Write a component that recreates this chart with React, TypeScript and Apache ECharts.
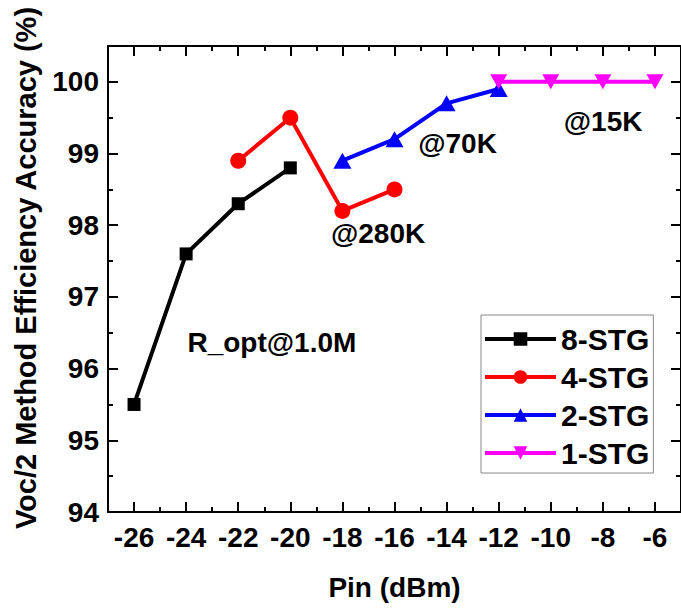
import React, { useEffect, useRef } from "react";
import * as echarts from "echarts";

const xMajor = [-26, -24, -22, -20, -18, -16, -14, -12, -10, -8, -6];
const xMinor = [-25, -23, -21, -19, -17, -15, -13, -11, -9, -7];
const yMajor = [94, 95, 96, 97, 98, 99, 100];
const yMinor = [94.5, 95.5, 96.5, 97.5, 98.5, 99.5];

const stg8X = [-26, -24, -22, -20];
const stg8Y = [95.5, 97.6, 98.3, 98.8];
const stg4X = [-22, -20, -18, -16];
const stg4Y = [98.9, 99.5, 98.2, 98.5];
const stg2X = [-18, -16, -14, -12];
const stg2Y = [98.9, 99.2, 99.7, 99.9];
const stg1X = [-12, -10, -8, -6];
const stg1Y = [100, 100, 100, 100];

const seriesNames = ["8-STG", "4-STG", "2-STG", "1-STG"];

const annotTexts = ["R_opt@1.0M", "@280K", "@70K", "@15K"];
const annotX = [-23.95, -18.44, -15.09, -9.5];
const annotY = [96.36, 97.89, 99.135, 99.44];

const FONT = "'Liberation Sans', Arial, sans-serif";

const zip = (xs: number[], ys: number[]) => xs.map((x, i) => [x, ys[i]]);

export default function App() {
  const ref = useRef<HTMLDivElement>(null);
  useEffect(() => {
    document.body.style.margin = "0";
    if (!ref.current) return;
    const chart = echarts.init(ref.current, undefined, { renderer: "svg" });
    const lineAxis = { show: true, lineStyle: { color: "#000", width: 2 } };
    const xBase = { type: "value", min: -27, max: -5, splitLine: { show: false } };
    const yBase = { type: "value", min: 94, max: 100.5, splitLine: { show: false } };
    const major = (vals: number[]) => ({
      show: true, inside: true, length: 10, customValues: vals,
      lineStyle: { color: "#000", width: 2 },
    });
    const minor = (vals: number[]) => ({
      show: true, inside: true, length: 5, customValues: vals,
      lineStyle: { color: "#000", width: 2 },
    });
    const labelStyle = { fontSize: 28, fontWeight: "bold", color: "#000", fontFamily: FONT };
    const mk = (name: string, data: number[][], color: string, symbol: string, size: any) => ({
      name, type: "line", data, xAxisIndex: 0, yAxisIndex: 0,
      symbol, symbolSize: size,
      lineStyle: { color, width: 4 },
      itemStyle: { color },
      z: 3,
    });
    chart.setOption({
      animation: false,
      backgroundColor: "#fff",
      grid: { left: 108, top: 46, width: 577.5, height: 466 },
      xAxis: [
        {
          ...xBase, position: "bottom", axisLine: lineAxis, axisTick: major(xMajor),
          axisLabel: { ...labelStyle, margin: 11, customValues: xMajor },
          name: "Pin (dBm)", nameLocation: "middle", nameGap: 61,
          nameTextStyle: { ...labelStyle },
        },
        { ...xBase, position: "bottom", axisLine: { show: false }, axisTick: minor(xMinor), axisLabel: { show: false } },
        { ...xBase, position: "top", axisLine: lineAxis, axisTick: major(xMajor), axisLabel: { show: false } },
        { ...xBase, position: "top", axisLine: { show: false }, axisTick: minor(xMinor), axisLabel: { show: false } },
      ],
      yAxis: [
        {
          ...yBase, position: "left", axisLine: lineAxis, axisTick: major(yMajor),
          axisLabel: { ...labelStyle, margin: 9, customValues: yMajor },
        },
        { ...yBase, position: "left", axisLine: { show: false }, axisTick: minor(yMinor), axisLabel: { show: false } },
        { ...yBase, position: "right", axisLine: lineAxis, axisTick: major(yMajor), axisLabel: { show: false } },
        { ...yBase, position: "right", axisLine: { show: false }, axisTick: minor(yMinor), axisLabel: { show: false } },
      ],
      legend: {
        orient: "vertical", left: 481, top: 315,
        data: seriesNames,
        borderColor: "#888", borderWidth: 1, padding: [9, 4, 5, 2],
        itemWidth: 71, itemHeight: 17, itemGap: 8,
        lineStyle: { width: 4 },
        textStyle: { ...labelStyle, fontSize: 30 },
        backgroundColor: "#fff",
      },
      series: [
        mk(seriesNames[0], zip(stg8X, stg8Y), "#000000", "rect", 13),
        mk(seriesNames[1], zip(stg4X, stg4Y), "#ff0000", "circle", 16),
        mk(seriesNames[2], zip(stg2X, stg2Y), "#0000ff", "triangle", [18, 16]),
        mk(seriesNames[3], zip(stg1X, stg1Y), "#ff00ff", "path://M0,0L2,0L1,1.8Z", [17, 15]),
      ],
    });
    const texts = annotTexts.map((t, i) => {
      const p = chart.convertToPixel({ xAxisIndex: 0, yAxisIndex: 0 }, [annotX[i], annotY[i]]) as number[];
      return {
        type: "text", x: p[0], y: p[1], z: 10,
        style: { text: t, fill: "#000", font: `bold 28px ${FONT}`, textAlign: "left", textVerticalAlign: "middle" },
      };
    });
    chart.setOption({
      graphic: [
        ...texts,
        {
          type: "text", x: 26, y: 268, rotation: Math.PI / 2, z: 10,
          style: {
            text: "Voc/2 Method Efficiency Accuracy (%)", fill: "#000",
            font: `bold 29px ${FONT}`, textAlign: "center", textVerticalAlign: "middle",
          },
        },
      ],
    });
    return () => chart.dispose();
  }, []);
  return <div ref={ref} style={{ width: 681, height: 609 }} />;
}
